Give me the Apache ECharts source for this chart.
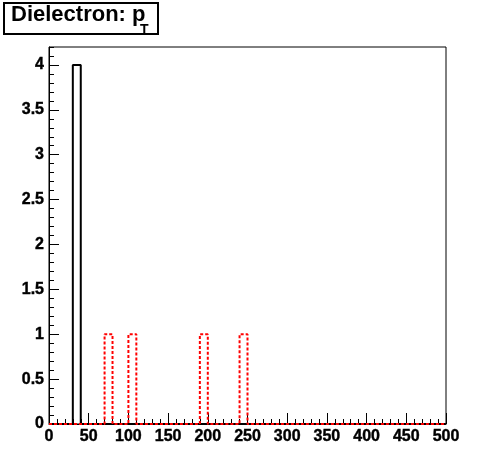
<!DOCTYPE html>
<html>
<head>
<meta charset="utf-8">
<script src="https://cdn.jsdelivr.net/npm/echarts@6/dist/echarts.min.js"></script>
<style>
html,body{margin:0;padding:0;background:#fff;}
#chart{width:496px;height:472px;}
</style>
</head>
<body>
<div id="chart"></div>
<script>
// ---- data ----
var xMin = 0, xMax = 500, binWidth = 10;
var blackBinLow = [30];
var blackBinCount = [4];
var redBinLow = [70, 100, 190, 240];
var redBinCount = [1, 1, 1, 1];
var xTickLabels = ['0','50','100','150','200','250','300','350','400','450','500'];
var yTickLabels = ['0','0.5','1','1.5','2','2.5','3','3.5','4'];
var yMax = 4.2;

function fullCounts(lows, counts) {
  var n = Math.round((xMax - xMin) / binWidth);
  var arr = [];
  for (var i = 0; i < n; i++) arr.push(0);
  for (var j = 0; j < lows.length; j++) {
    arr[Math.round((lows[j] - xMin) / binWidth)] = counts[j];
  }
  return arr;
}
function stepPoints(counts) {
  var pts = [[xMin, 0]];
  for (var i = 0; i < counts.length; i++) {
    var lo = xMin + i * binWidth, hi = lo + binWidth;
    pts.push([lo, counts[i]]);
    pts.push([hi, counts[i]]);
  }
  pts.push([xMax, 0]);
  return pts;
}
var blackPts = stepPoints(fullCounts(blackBinLow, blackBinCount));
var redPts = stepPoints(fullCounts(redBinLow, redBinCount));

var FONT = 'Liberation Sans';
var chart = echarts.init(document.getElementById('chart'), null, {renderer: 'canvas'});
chart.setOption({
  animation: false,
  backgroundColor: '#fff',
  grid: {left: 49, top: 47, right: 50, bottom: 48, show: true, borderColor: '#000', borderWidth: 1, backgroundColor: 'transparent'},
  xAxis: [{
    type: 'value', min: xMin, max: xMax, interval: 50,
    axisLine: {show: true, lineStyle: {color: '#000', width: 1}},
    axisTick: {show: true, inside: true, length: 11, lineStyle: {color: '#000'}},
    splitLine: {show: false},
    axisLabel: {show: true, margin: 5, color: '#000', fontFamily: FONT, fontWeight: 'bold', fontSize: 16,
      textBorderColor: '#000', textBorderWidth: 0.4,
      formatter: function (v) { var s = String(v); return xTickLabels.indexOf(s) >= 0 ? s : ''; }}
  }, {
    type: 'value', min: xMin, max: xMax, interval: 10, position: 'bottom',
    axisLine: {show: false},
    axisTick: {show: true, inside: true, length: 5, lineStyle: {color: '#000'}},
    splitLine: {show: false},
    axisLabel: {show: false}
  }],
  yAxis: [{
    type: 'value', min: 0, max: yMax, interval: 0.5,
    axisLine: {show: true, lineStyle: {color: '#000', width: 1}},
    axisTick: {show: true, inside: true, length: 10, lineStyle: {color: '#000'}},
    splitLine: {show: false},
    axisLabel: {show: true, margin: 5, color: '#000', fontFamily: FONT, fontWeight: 'bold', fontSize: 16,
      textBorderColor: '#000', textBorderWidth: 0.4,
      showMaxLabel: false,
      formatter: function (v) { var s = String(Math.round(v * 10) / 10); return yTickLabels.indexOf(s) >= 0 ? s : ''; }}
  }, {
    type: 'value', min: 0, max: yMax, interval: 0.1, position: 'left',
    axisLine: {show: false},
    axisTick: {show: true, inside: true, length: 5, lineStyle: {color: '#000'}},
    splitLine: {show: false},
    axisLabel: {show: false}
  }],
  series: [{
    type: 'line', xAxisIndex: 0, yAxisIndex: 0, data: blackPts,
    showSymbol: false, symbol: 'none',
    lineStyle: {color: '#000', width: 2}, z: 3
  }, {
    type: 'line', xAxisIndex: 0, yAxisIndex: 0, data: redPts,
    showSymbol: false, symbol: 'none',
    lineStyle: {color: '#ff0000', width: 2, type: [3, 2]}, z: 4
  }],
  graphic: [{
    type: 'rect', shape: {x: 4, y: 3, width: 154, height: 31},
    style: {fill: '#fff', stroke: '#000', lineWidth: 2}, z: 10
  }, {
    type: 'text', x: 11, y: 4,
    style: {text: 'Dielectron: p', fill: '#000', font: 'bold 22px "Liberation Sans"'}, z: 11
  }, {
    type: 'text', x: 140, y: 23,
    style: {text: 'T', fill: '#000', font: 'bold 14px "Liberation Sans"'}, z: 11
  }]
});
</script>
</body>
</html>
